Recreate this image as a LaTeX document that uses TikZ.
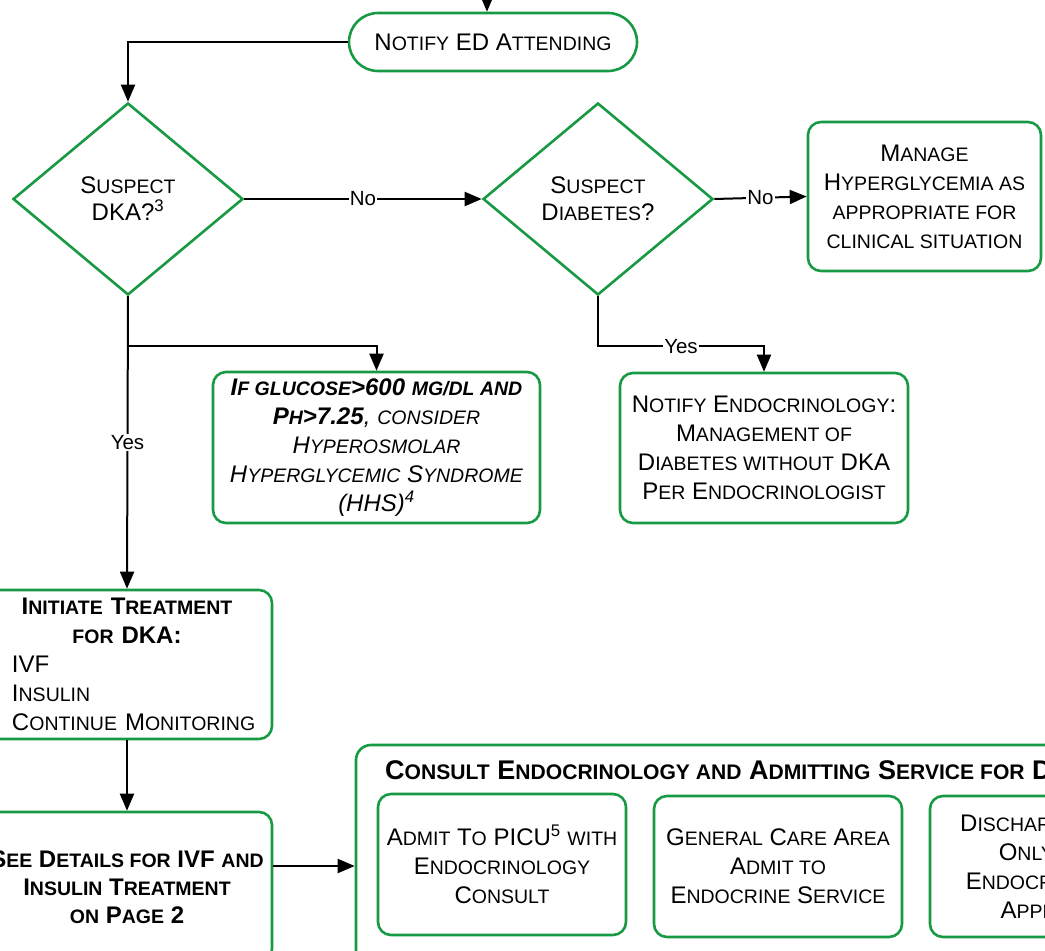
\documentclass[tikz,border=0pt]{standalone}
\usepackage{fontspec}
\setmainfont{Liberation Sans}
\usepackage{xcolor}
\usetikzlibrary{shapes.geometric, arrows.meta}
\definecolor{cchgreen}{RGB}{24,154,68}
\newcommand{\smc}[1]{{\fontsize{19.5}{29}\selectfont #1}}
\newcommand{\bigsmc}[1]{{\fontsize{21.1}{29}\selectfont #1}}
\tikzset{
  box/.style={draw=cchgreen, line width=2.6pt, rounded corners=13pt, fill=white,
    align=center, inner sep=0pt, font=\fontsize{24}{29}\selectfont},
  decision/.style={diamond, draw=cchgreen, line width=2.6pt, fill=white, inner sep=0pt,
    minimum width=230pt, minimum height=192pt, align=center, font=\fontsize{24}{27}\selectfont},
  flow/.style={line width=2pt, -{Triangle[length=17pt,width=14pt]}},
  lbl/.style={fill=white, inner sep=1pt, font=\fontsize{20.5}{22}\selectfont}
}

\begin{document}
\begin{tikzpicture}[x=1pt, y=-1pt]
  \path[use as bounding box, clip] (0,0) rectangle (1045,951);
  % top row
  \node[box, rounded corners=29pt, minimum width=288pt, minimum height=58pt] (notify) at (493,42)
    {N\smc{OTIFY} ED A\smc{TTENDING}};
  \node[decision] (dka) at (128,199) {S\smc{USPECT}\\DKA?\textsuperscript{3}};
  \node[decision] (diab) at (598,199) {S\smc{USPECT}\\D\smc{IABETES}?};
  \node[box, minimum width=233pt, minimum height=149pt] (manage) at (924.5,196.5)
    {M\smc{ANAGE}\\H\smc{YPERGLYCEMIA AS}\\\smc{APPROPRIATE FOR}\\\smc{CLINICAL SITUATION}};
  % middle row
  \node[box, minimum width=327pt, minimum height=151pt] (hhs) at (376.5,447.5)
    {\textbf{\textit{I\smc{F GLUCOSE}>600 \smc{MG/DL AND}}}\\
     \textbf{\textit{P\smc{H}>7.25}}\textit{, \smc{CONSIDER}}\\
     \textit{H\smc{YPEROSMOLAR}}\\
     \textit{H\smc{YPERGLYCEMIC} S\smc{YNDROME}}\\
     \textit{(HHS)\textsuperscript{4}}};
  \node[box, minimum width=288pt, minimum height=150pt] (endo) at (764,448)
    {N\smc{OTIFY} E\smc{NDOCRINOLOGY}:\\M\smc{ANAGEMENT OF}\\D\smc{IABETES WITHOUT} DKA\\P\smc{ER} E\smc{NDOCRINOLOGIST}};
  % left column
  \node[box, minimum width=290pt, minimum height=149pt, text width=270pt, align=left] (init) at (127,664.5)
    {{\centering\bfseries I\smc{NITIATE} T\smc{REATMENT}\\\smc{FOR} DKA:\par}
     \hspace*{20pt}IVF\\\hspace*{20pt}I\smc{NSULIN}\\\hspace*{20pt}C\smc{ONTINUE} M\smc{ONITORING}};
  \node[box, minimum width=290pt, minimum height=150pt, font=\bfseries\fontsize{24}{28}\selectfont] (details) at (127,887)
    {S\smc{EE} D\smc{ETAILS FOR} IVF \smc{AND}\\I\smc{NSULIN} T\smc{REATMENT}\\\smc{ON} P\smc{AGE} 2};
  % consult block
  \node[box, rounded corners=15pt, minimum width=960pt, minimum height=242pt] (consult) at (836,866) {};
  \node[anchor=base west, inner sep=0pt, font=\bfseries\fontsize{27}{28}\selectfont] (title) at (385,779)
    {C\bigsmc{ONSULT} E\bigsmc{NDOCRINOLOGY AND} A\bigsmc{DMITTING} S\bigsmc{ERVICE FOR} D\bigsmc{ISPOSITION}};
  \node[box, minimum width=248pt, minimum height=141pt] (picu) at (502,864.5)
    {A\smc{DMIT} T\smc{O} PICU\textsuperscript{5} \smc{WITH}\\E\smc{NDOCRINOLOGY}\\C\smc{ONSULT}};
  \node[box, minimum width=248pt, minimum height=141pt] (gca) at (778,866.5)
    {G\smc{ENERAL} C\smc{ARE} A\smc{REA}\\A\smc{DMIT TO}\\E\smc{NDOCRINE} S\smc{ERVICE}};
  \node[box, minimum width=248pt, minimum height=141pt] (home) at (1054,866.5)
    {D\smc{ISCHARGE} H\smc{OME}\\O\smc{NLY WITH}\\E\smc{NDOCRINOLOGY}\\A\smc{PPROVAL}};
  % connectors
  \coordinate (in) at (487,-20);
  \draw[flow] (in) -- (in |- notify.north);
  \draw[flow] (notify.west) -| (dka.north);
  \draw[flow] (dka.east) -- node[lbl]{No} (diab.west);
  \draw[flow] (diab.east) -- node[lbl]{No} (manage.west);
  \draw[flow] (diab.south) -- ++(0,50) -| node[lbl, pos=0.25]{Yes} (endo.north);
  \draw[flow] (dka.south) -- ++(0,50) -| (hhs.north);
  \draw[flow] (dka.south) -- node[lbl]{Yes} (init.north);
  \draw[flow] (init.south) -- (details.north);
  \draw[flow] (details.east |- consult.west) -- (consult.west);
\end{tikzpicture}
\end{document}
